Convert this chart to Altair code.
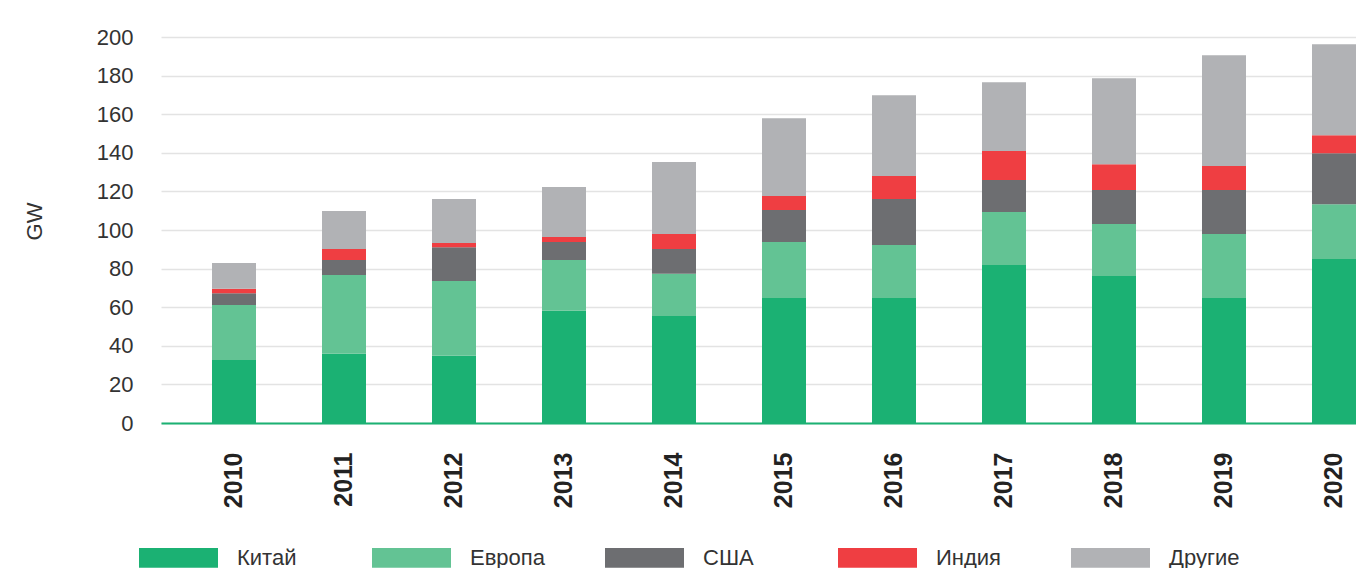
import altair as alt
import pandas as pd

years = ["2010", "2011", "2012", "2013", "2014", "2015", "2016", "2017", "2018", "2019", "2020"]
series = ["Китай", "Европа", "США", "Индия", "Другие"]
china = [32.7, 35.9, 34.8, 58.1, 55.5, 64.8, 64.8, 81.9, 76.2, 64.8, 85.0]
europe = [28.5, 40.8, 38.8, 26.4, 21.8, 29.0, 27.4, 27.4, 26.9, 33.1, 28.4]
usa = [6.0, 7.8, 17.4, 9.3, 12.9, 16.6, 23.8, 16.6, 17.6, 22.8, 26.4]
india = [2.3, 5.7, 2.2, 2.6, 7.7, 7.2, 12.0, 15.0, 13.4, 12.4, 9.3]
others = [13.4, 19.6, 22.8, 25.9, 37.3, 40.3, 41.8, 35.7, 44.5, 57.4, 47.1]
colors = ["#1bb173", "#63c394", "#6d6e71", "#ef3e42", "#b1b2b5"]
y_ticks = [0, 20, 40, 60, 80, 100, 120, 140, 160, 180, 200]

rows = []
for si, (name, vals) in enumerate(zip(series, [china, europe, usa, india, others])):
    for y, v in zip(years, vals):
        rows.append({"year": y, "series": name, "value": v, "idx": si})
df = pd.DataFrame(rows)

FONT = "Liberation Sans"

chart = alt.Chart(df).mark_bar().encode(
    x=alt.X("year:O", sort=years,
            scale=alt.Scale(paddingInner=0.6, paddingOuter=0.2318, align=1),
            axis=alt.Axis(title=None, labelAngle=-90, labelFontSize=25, labelFontWeight="bold",
                          labelColor="#222222", labelFont=FONT, labelPadding=29,
                          ticks=False, tickSize=0, domainColor="#1bb173", domainWidth=2,
                          grid=False)),
    y=alt.Y("value:Q", stack="zero",
            scale=alt.Scale(domain=[0, 200], nice=False),
            axis=alt.Axis(title="GW", values=y_ticks, labelFontSize=22, labelColor="#333333",
                          labelFont=FONT, labelPadding=28, ticks=False, tickSize=0, domain=False,
                          gridColor="#e3e3e3", gridWidth=1.5,
                          titleFont=FONT, titleFontSize=22, titleFontWeight="normal",
                          titleColor="#333333", titleX=-127, titleY=184, titleAngle=-90,
                          titleAlign="center", titleBaseline="middle")),
    color=alt.Color("series:N", sort=series,
                    scale=alt.Scale(domain=series, range=colors),
                    legend=alt.Legend(title=None, orient="none", legendX=-22, legendY=481,
                                      direction="horizontal", columns=5, gridAlign="all",
                                      columnPadding=60, padding=0,
                                      symbolType="M-1,-0.25H1V0.25H-1Z", symbolSize=6241,
                                      symbolStrokeWidth=0, symbolOpacity=1,
                                      labelFont=FONT, labelFontSize=22, labelColor="#333333",
                                      labelOffset=19, labelLimit=300)),
    order=alt.Order("idx:Q", sort="ascending"),
).properties(
    width=1195, height=386,
    padding={"left": 153, "top": 29, "right": 0, "bottom": 145},
    autosize=alt.AutoSizeParams(type="none"),
).configure_view(stroke=None)

chart.save("out.html", embed_options={"renderer": "svg", "actions": False})
